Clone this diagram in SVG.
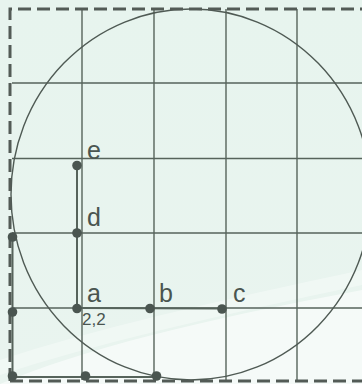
<svg xmlns="http://www.w3.org/2000/svg" width="362" height="384" viewBox="0 0 362 384">
  <defs>
    <linearGradient id="bg" x1="0" y1="0" x2="0" y2="1">
      <stop offset="0" stop-color="#e7f4ee"/>
      <stop offset="1" stop-color="#e9f4ef"/>
    </linearGradient>
  </defs>
  <style>
    .grid { stroke: #56635b; stroke-width: 1.4; fill: none; }
    .border { stroke: #535b56; stroke-width: 3; stroke-dasharray: 13 6; fill: none; }
    .seg { stroke: #56635b; stroke-width: 2; fill: none; }
    .curve { stroke: #4f5a54; stroke-width: 1.4; fill: none; }
    .dot { fill: #4a5550; }
    .lbl { font-family: "Liberation Sans", Arial, sans-serif; font-size: 25px; fill: #4a5550; }
    .small { font-family: "Liberation Sans", Arial, sans-serif; font-size: 17px; fill: #4a5550; }
  </style>
  <rect x="0" y="0" width="362" height="384" fill="url(#bg)"/>
  <path d="M0,384 C80,350 200,320 362,290 L362,384 Z" fill="#ffffff" opacity="0.55"/>
  <path d="M0,360 C90,330 220,300 362,270 L362,285 C220,315 90,345 0,375 Z" fill="#ffffff" opacity="0.35"/>

  <g id="grid">
    <line class="grid" x1="82" y1="9" x2="82" y2="380"/>
    <line class="grid" x1="154" y1="9" x2="154" y2="380"/>
    <line class="grid" x1="226" y1="9" x2="226" y2="380"/>
    <line class="grid" x1="297" y1="9" x2="297" y2="380"/>
    <line class="grid" x1="12" y1="83" x2="362" y2="83"/>
    <line class="grid" x1="12" y1="158.5" x2="362" y2="158.5"/>
    <line class="grid" x1="12" y1="233" x2="362" y2="233"/>
    <line class="grid" x1="12" y1="308" x2="362" y2="308"/>
  </g>

  <g id="circle">
    <ellipse class="curve" cx="191" cy="194.5" rx="180" ry="185.5"/>
  </g>

  <g id="border">
    <path class="border" d="M10,381 L10,9 L362,9"/>
    <path class="border" d="M10,381 L362,381"/>
  </g>

  <g id="connectors">
    <line class="seg" x1="77" y1="165.5" x2="77" y2="308"/>
    <line class="seg" x1="77" y1="308" x2="222" y2="308.5"/>
    <line class="seg" x1="12.5" y1="237" x2="12.5" y2="377"/>
    <line class="seg" x1="12.5" y1="377" x2="157" y2="377"/>
  </g>

  <g id="node-e">
    <circle class="dot" cx="77" cy="165.5" r="4.8"/>
    <text class="lbl" x="87" y="159">e</text>
  </g>
  <g id="node-d">
    <circle class="dot" cx="77" cy="233" r="4.8"/>
    <text class="lbl" x="87" y="226">d</text>
  </g>
  <g id="node-a">
    <circle class="dot" cx="77" cy="308.5" r="4.8"/>
    <text class="lbl" x="87" y="302">a</text>
    <text class="small" x="82" y="325">2,2</text>
  </g>
  <g id="node-b">
    <circle class="dot" cx="150" cy="308.5" r="4.8"/>
    <text class="lbl" x="159" y="302">b</text>
  </g>
  <g id="node-c">
    <circle class="dot" cx="222" cy="309" r="4.8"/>
    <text class="lbl" x="233" y="302">c</text>
  </g>
  <g id="node-p1">
    <circle class="dot" cx="12.5" cy="237" r="4.8"/>
  </g>
  <g id="node-p2">
    <circle class="dot" cx="12.5" cy="312" r="4.8"/>
  </g>
  <g id="node-p3">
    <circle class="dot" cx="12.5" cy="376" r="4.8"/>
  </g>
  <g id="node-p4">
    <circle class="dot" cx="85.5" cy="376" r="4.8"/>
  </g>
  <g id="node-p5">
    <circle class="dot" cx="156.5" cy="376" r="4.8"/>
  </g>
</svg>
